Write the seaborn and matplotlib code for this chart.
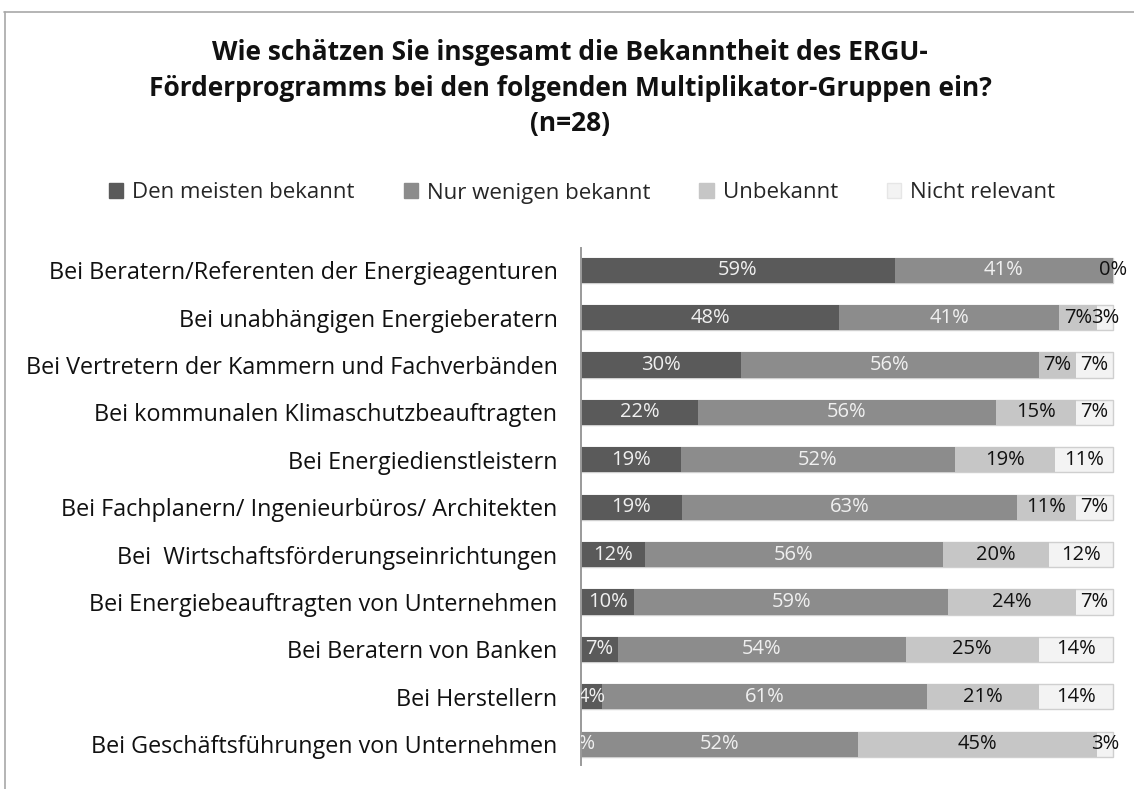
import matplotlib

matplotlib.use("Agg")
import matplotlib.pyplot as plt
import numpy as np
import pandas as pd
import seaborn as sns
from matplotlib.lines import Line2D
from matplotlib.patches import Patch

CATEGORIES = [
    "Bei Beratern/Referenten der Energieagenturen",
    "Bei unabhängigen Energieberatern",
    "Bei Vertretern der Kammern und Fachverbänden",
    "Bei kommunalen Klimaschutzbeauftragten",
    "Bei Energiedienstleistern",
    "Bei Fachplanern/ Ingenieurbüros/ Architekten",
    "Bei  Wirtschaftsförderungseinrichtungen",
    "Bei Energiebeauftragten von Unternehmen",
    "Bei Beratern von Banken",
    "Bei Herstellern",
    "Bei Geschäftsführungen von Unternehmen",
]
SERIES = ["Den meisten bekannt", "Nur wenigen bekannt", "Unbekannt", "Nicht relevant"]
DEN_MEISTEN = [59, 48, 30, 22, 19, 19, 12, 10, 7, 4, 0]
NUR_WENIGEN = [41, 41, 56, 56, 52, 63, 56, 59, 54, 61, 52]
UNBEKANNT = [0, 7, 7, 15, 19, 11, 20, 24, 25, 21, 45]
NICHT_RELEVANT = [0, 3, 7, 7, 11, 7, 12, 7, 14, 14, 3]

COLORS = ["#5a5a5a", "#8c8c8c", "#c6c6c6", "#f3f3f3"]
LABEL_COLORS = ["#f0f0f0", "#f0f0f0", "#111111", "#111111"]
FONT = "Open Sans"

data = pd.DataFrame(
    {
        "category": CATEGORIES,
        SERIES[0]: DEN_MEISTEN,
        SERIES[1]: NUR_WENIGEN,
        SERIES[2]: UNBEKANNT,
        SERIES[3]: NICHT_RELEVANT,
    }
)
values = data[SERIES].to_numpy(dtype=float)
# 100 % stacked: scale each row to its own total, like the original
shares = values / values.sum(axis=1, keepdims=True) * 100
cumulative = np.cumsum(shares, axis=1)

sns.set_theme(style="white")
plt.rcParams["font.family"] = [FONT, "DejaVu Sans"]

fig = plt.figure(figsize=(11.34, 7.89), dpi=100)
ax = fig.add_axes([581 / 1134, 1 - 765 / 789, 1 - 581 / 1134, (765 - 248) / 789])

# draw from the longest cumulative bar down so each series sits on top
for index in range(len(SERIES) - 1, -1, -1):
    frame = pd.DataFrame({"category": CATEGORIES, "end": cumulative[:, index]})
    sns.barplot(
        data=frame,
        x="end",
        y="category",
        order=CATEGORIES,
        color=COLORS[index],
        saturation=1,
        width=0.53,
        errorbar=None,
        edgecolor="#cfcfcf" if index == 3 else COLORS[index],
        linewidth=1.0 if index == 3 else 0,
        ax=ax,
    )

for row in range(len(CATEGORIES)):
    start = 0.0
    for index in range(len(SERIES)):
        width = shares[row, index]
        # both last series empty: the original shows only one "0%"
        if index == 3 and values[row, 3] == 0 and values[row, 2] == 0:
            continue
        ax.text(
            start + width / 2,
            row,
            f"{int(values[row, index])}%",
            ha="center",
            va="center",
            fontsize=14.5,
            color=LABEL_COLORS[index],
            clip_on=True,
        )
        start += width

ax.set_xlim(0, 100 + 21 / 532 * 100)
ax.set_ylim(len(CATEGORIES) - 1 + 0.44, -0.47)
ax.set_xlabel("")
ax.set_ylabel("")
ax.set_xticks([])
ax.tick_params(axis="y", length=0, pad=17, labelsize=16.8, labelcolor="#111111")
for name in ("top", "right", "bottom"):
    ax.spines[name].set_visible(False)
ax.spines["left"].set_color("#9a9a9a")
ax.spines["left"].set_linewidth(1.4)

fig.text(
    570 / 1134,
    1 - 88 / 789,
    "Wie schätzen Sie insgesamt die Bekanntheit des ERGU-\n"
    "Förderprogramms bei den folgenden Multiplikator-Gruppen ein?\n"
    "(n=28)",
    ha="center",
    va="center",
    fontsize=19,
    fontweight="bold",
    linespacing=1.42,
    color="#111111",
)

handles = [
    Patch(facecolor=COLORS[i], edgecolor="#e6e6e6" if i == 3 else COLORS[i], label=SERIES[i])
    for i in range(len(SERIES))
]
fig.legend(
    handles=handles,
    loc="center",
    bbox_to_anchor=(582 / 1134, 1 - 193 / 789),
    ncol=4,
    frameon=False,
    fontsize=16,
    handlelength=0.65,
    handleheight=0.65,
    handletextpad=0.4,
    columnspacing=2.2,
)

fig.add_artist(Line2D([4 / 1134, 1], [1 - 12 / 789] * 2, color="#a8a8a8", lw=1.2))
fig.add_artist(Line2D([5 / 1134] * 2, [1 - 12 / 789, 0], color="#a8a8a8", lw=1.2))

fig.savefig("out.png", dpi=100)
plt.close(fig)
